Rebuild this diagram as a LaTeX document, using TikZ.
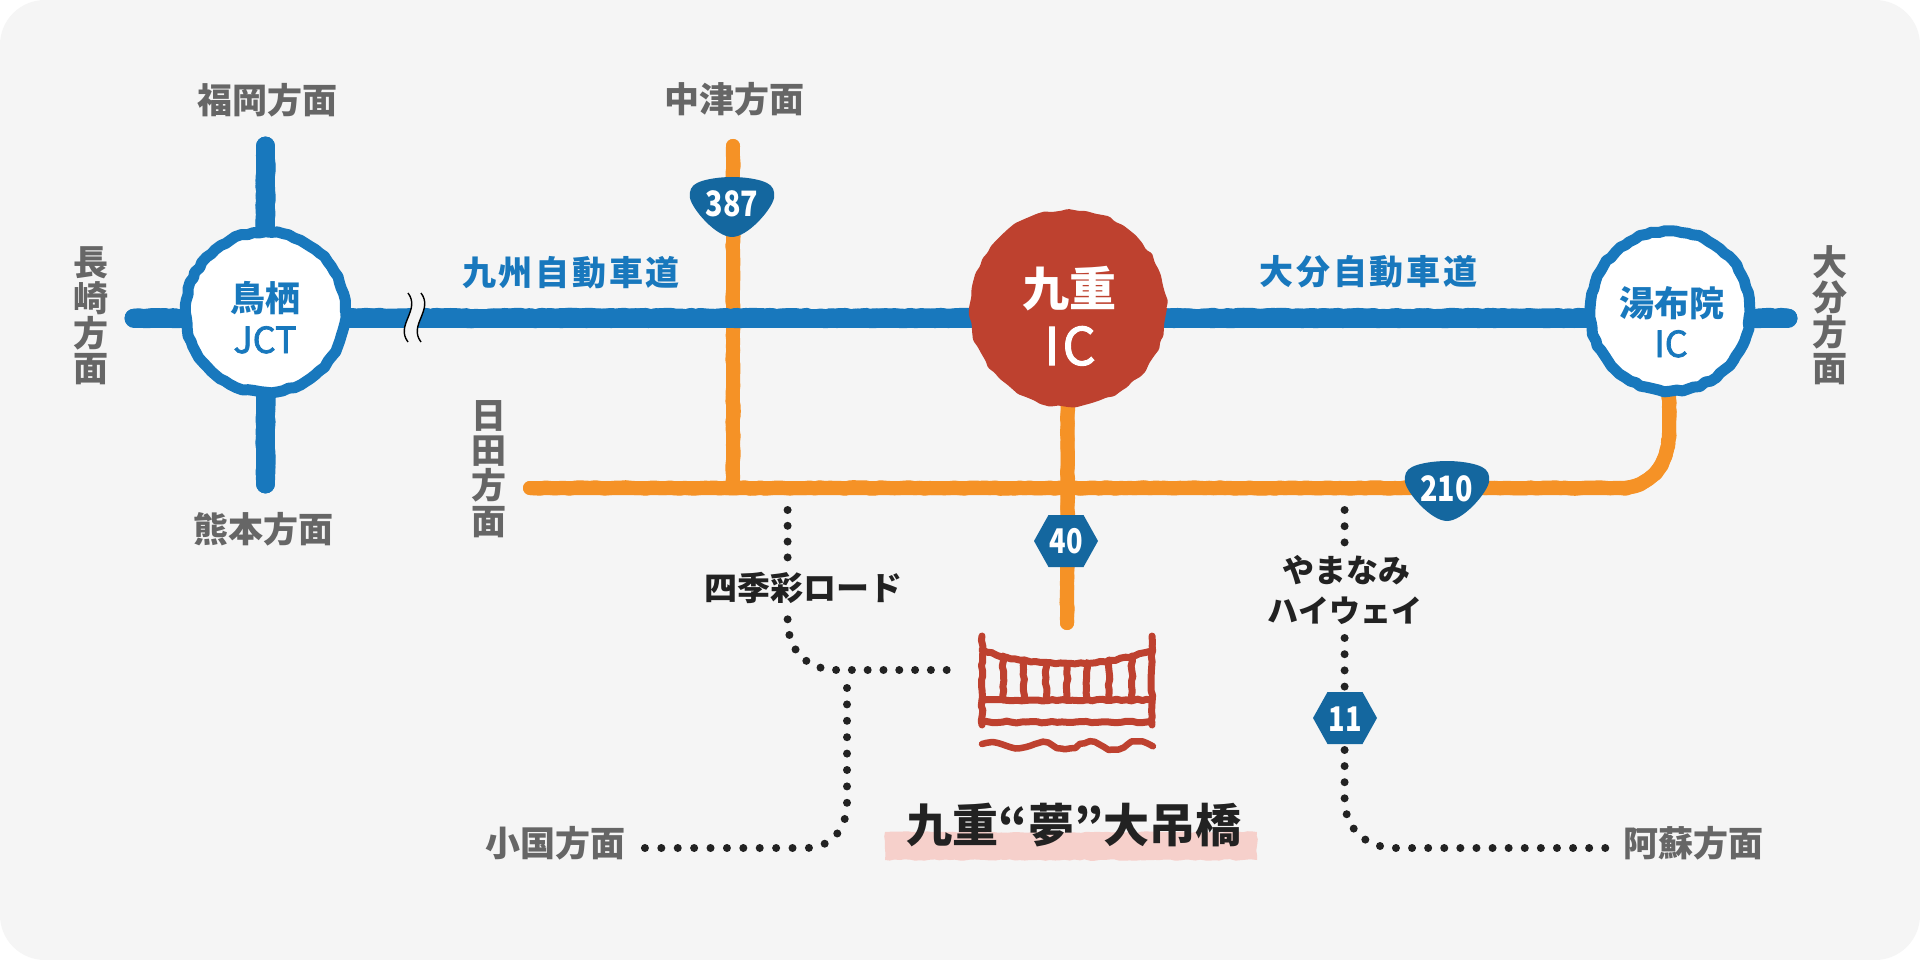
\documentclass[tikz,border=0pt]{standalone}
\usepackage{fontspec}
\usepackage{graphicx}
\usetikzlibrary{decorations.pathmorphing,calc}
\newfontfamily\jp[Ligatures=TeX]{Noto Sans CJK JP}
\newfontfamily\jpls[LetterSpace=8,Ligatures=TeX]{Noto Sans CJK JP}
\newfontfamily\jpm[FakeBold=2]{Noto Sans CJK JP}
\definecolor{paper}{HTML}{F5F5F5}
\definecolor{bluer}{HTML}{1878BD}
\definecolor{oranger}{HTML}{F59226}
\definecolor{redic}{HTML}{BE412F}
\definecolor{signb}{HTML}{14679F}
\definecolor{grayt}{HTML}{666666}
\definecolor{blackt}{HTML}{222222}
\definecolor{pinkb}{HTML}{F6D0CB}
\pgfdeclarelayer{base}
\pgfdeclarelayer{roads}
\pgfsetlayers{base,roads,main}
\newcommand{\fs}[1]{\fontsize{#1}{#1}\selectfont\bfseries}
\newcommand{\fm}[1]{\fontsize{#1}{#1}\selectfont\jpm}
\newcommand{\vfs}[1]{\fontsize{#1}{35.2}\selectfont\bfseries\lineskiplimit=-30pt }
\tikzset{
  x=1pt,y=-1pt,
  rough/.style={decorate,decoration={random steps,segment length=5pt,amplitude=1pt},line join=round,line cap=round},
  blueroad/.style={draw=bluer,line width=19pt,line cap=round,line join=round,
     postaction={draw=bluer,line width=18.5pt,rough},postaction={draw=bluer,line width=18.5pt,rough}},
  orangeroad/.style={draw=oranger,line width=14pt,line cap=round,line join=round,
     postaction={draw=oranger,line width=14pt,rough,decoration={random steps,segment length=5pt,amplitude=0.8pt}}},
  dotline/.style={draw=blackt,line width=8pt,line cap=round,dash pattern=on 0pt off #1pt},
  dotline/.default=15.8,
  ring/.style={circle,draw=bluer,fill=white,line width=11pt,minimum size=160pt,inner sep=0pt,outer sep=0pt,
     decorate,decoration={random steps,segment length=6pt,amplitude=1pt},line join=round},
  redring/.style={circle,fill=redic,minimum size=197pt,inner sep=0pt,outer sep=0pt,
     decorate,decoration={random steps,segment length=8pt,amplitude=1.6pt},rounded corners=1.5pt},
  txt/.style={anchor=base,inner sep=0pt,font=\jp},
  grayl/.style={txt,text=grayt},
  vert/.style={anchor=center,inner sep=0pt,align=center,text=grayt,font=\jp\vfs{35}},
  bridge/.style={draw=redic,line width=7pt,rough,decoration={random steps,segment length=5pt,amplitude=0.9pt}},
  shieldpic/.pic={\fill[signb] (0,0) .. controls (12,0) and (27,2) .. (35,6) .. controls (41,9) and (43,14) .. (42,21) .. controls (40,32) and (16,60) .. (0,60) .. controls (-16,60) and (-40,32) .. (-42,21) .. controls (-43,14) and (-41,9) .. (-35,6) .. controls (-27,2) and (-12,0) .. (0,0) -- cycle;},
  hexpic/.pic={\fill[signb] (-32,0) -- (-17.5,-26) -- (17.5,-26) -- (32,0) -- (17.5,26) -- (-17.5,26) -- cycle;},
}
\begin{document}
\begin{tikzpicture}
\pgfmathsetseed{7}
\useasboundingbox (0,0) rectangle (1920,960);
\begin{pgfonlayer}{base}
  \fill[white] (0,0) rectangle (1920,960);
  \fill[paper,rounded corners=45pt] (0,0) rectangle (1920,960);
\end{pgfonlayer}

% interchange circles
\node[ring] (tosu) at (265.5,312) {};
\node[ring] (yufu) at (1670,311) {};
\node[redring] (kuju) at (1068,308) {};

% free ends
\coordinate (wEnd) at (134,318);
\coordinate (eEnd) at (1788,318);
\coordinate (nEnd) at (265.5,146);
\coordinate (sEnd) at (265.5,484);
\coordinate (nakatsu) at (733,146);
\coordinate (cross) at (733,488);
\coordinate (hida) at (530,488);
\coordinate (bend) at (1620,488);
\coordinate (bendtop) at (1669,432);
\coordinate (yufuS) at (1669,380);
\coordinate (kujuS) at (1067,623);

\begin{pgfonlayer}{roads}
  \draw[orangeroad] (nakatsu) -- (cross);
  \draw[orangeroad] (hida) -- (bend) .. controls (1650,488) and (1669,465) .. (bendtop) -- (yufuS);
  \draw[orangeroad] (kuju.center) -- (kujuS);
  \draw[blueroad] (wEnd) -- (wEnd -| tosu.center);
  \draw[blueroad] (nEnd) -- (tosu.center);
  \draw[blueroad] (tosu.center) -- (sEnd);
  \draw[blueroad] (wEnd -| tosu.center) -- (wEnd -| kuju.center);
  \draw[blueroad] (wEnd -| kuju.center) -- (wEnd -| yufu.center);
  \draw[blueroad] (wEnd -| yufu.center) -- (eEnd);
\end{pgfonlayer}

% road break
\fill[paper] (408,293) .. controls (421,310) and (395,325) .. (408,342) -- (421,342) .. controls (408,325) and (434,310) .. (421,293) -- cycle;
\draw[black,line width=1.4pt] (408,293) .. controls (421,310) and (395,325) .. (408,342);
\draw[black,line width=1.4pt] (421,293) .. controls (434,310) and (408,325) .. (421,342);

% signs
\pic at (732,177) {shieldpic};
\pic at (1447,461) {shieldpic};
\pic at (1066,541) {hexpic};
\pic at (1345,718) {hexpic};
\node[txt,text=white] (r387) at (732,217) {\fs{35}\scalebox{.82}[1]{387}};
\node[txt,text=white] (r210) at (1446.5,501) {\fs{35}\scalebox{.82}[1]{210}};
\node[txt,text=white] (r40) at (1066,553.5) {\fs{34}\scalebox{.8}[1]{40}};
\node[txt,text=white] (r11) at (1345,731.5) {\fs{34}\scalebox{.8}[1]{11}};

% circle texts
\node[txt,text=bluer] (t1) at (265.5,311) {\fs{35}鳥栖};
\node[txt,text=bluer] (t2) at (265,353) {\fm{36}JCT};
\node[txt,text=bluer] (t3) at (1672,316) {\fs{35}湯布院};
\node[txt,text=bluer] (t4) at (1671,357) {\fm{36}IC};
\node[txt,text=white] (t5) at (1069.5,306) {\fs{47}九重};
\node[txt,text=white] (t6) at (1070,365) {\fm{52}I\kern3ptC};

% road names
\node[anchor=base,inner sep=0pt,text=bluer,font=\jpls] (k1) at (571,285) {\fs{34}九州自動車道};
\node[anchor=base,inner sep=0pt,text=bluer,font=\jpls] (k2) at (1368.5,284) {\fs{34}大分自動車道};

% direction labels
\node[grayl] (d1) at (267,114) {\fs{35}福岡方面};
\node[grayl] (d2) at (734,113) {\fs{35}中津方面};
\node[grayl] (d3) at (263.5,542) {\fs{35}熊本方面};
\node[grayl] (d4) at (555,856) {\fs{35}小国方面};
\node[grayl] (d5) at (1693.5,856) {\fs{35}阿蘇方面};
\node[vert] (d6) at (91,316) {長\\崎\\方\\面};
\node[vert] (d7) at (489,469) {日\\田\\方\\面};
\node[vert] (d8) at (1829.5,315) {大\\分\\方\\面};

% route names
\node[txt,text=blackt] (n1) at (803.5,600) {\fs{33}四季彩ロード};
\node[txt,text=blackt] (n2) at (1346.5,582) {\fs{32}やまなみ};
\node[txt,text=blackt] (n3) at (1345,622) {\fs{31}ハイウェイ};

% dotted routes
\coordinate (a0) at (787.6,510);
\coordinate (a1) at (787.6,557.5);
\coordinate (a2) at (787.6,619.3);
\coordinate (a3) at (838,670);
\coordinate (a4) at (948,670);
\coordinate (b0) at (847,688);
\coordinate (b1) at (847,803);
\coordinate (b2) at (806,848);
\coordinate (b3) at (642.8,848);
\coordinate (c0) at (1344.6,510);
\coordinate (c1) at (1344.6,542.5);
\coordinate (c2) at (1344.6,638);
\coordinate (c3) at (1344.6,687.5);
\coordinate (c4) at (1344.6,750);
\coordinate (c5) at (1344.6,799);
\coordinate (c6) at (1396,848);
\coordinate (c7) at (1606,848);
\draw[dotline] (a0) -- (a1);
\draw[dotline] (a2) .. controls (787.6,650) and (806,670) .. (a3) -- (a4);
\draw[dotline=16.4] (b0) -- (b1) .. controls (847,830) and (830,848) .. (b2) -- (b3);
\draw[dotline=16.2] (c0) -- (c1);
\draw[dotline=16.2] (c2) -- (c3);
\draw[dotline=16.1] (c4) -- (c5) .. controls (1344.6,828) and (1365,848) .. (c6) -- (c7);

% bridge
\draw[bridge] (982,636) -- (982,725);
\draw[bridge] (1152,636) -- (1152,725);
\draw[bridge] (982,650) .. controls (1030,668) and (1104,668) .. (1152,650);
\draw[bridge] (982,700) -- (1152,700);
\draw[bridge] (982,722) -- (1152,722);
\foreach \hx/\hy in {1003/656,1024/660,1046/662.7,1067/663.5,1087/662.7,1109/660,1132/656}
  \draw[bridge] (\hx,\hy) -- (\hx,700);
\draw[bridge,line width=6.5pt] (982,744) .. controls (1000,739) and (1005,749) .. (1020,748) .. controls (1030,747) and (1035,742) .. (1043,742) .. controls (1051,742) and (1055,749) .. (1065,749) .. controls (1075,749) and (1080,742) .. (1090,742) .. controls (1100,742) and (1103,749) .. (1113,749) .. controls (1123,749) and (1127,742) .. (1137,742) .. controls (1143,742) and (1148,745) .. (1153,746);

% title
\fill[pinkb,decorate,decoration={random steps,segment length=5pt,amplitude=0.8pt}] (885,832) rectangle (1257,860);
\node[txt,text=blackt] (title) at (1074,842) {\fs{46}九重“夢”大吊橋};
\end{tikzpicture}
\end{document}
